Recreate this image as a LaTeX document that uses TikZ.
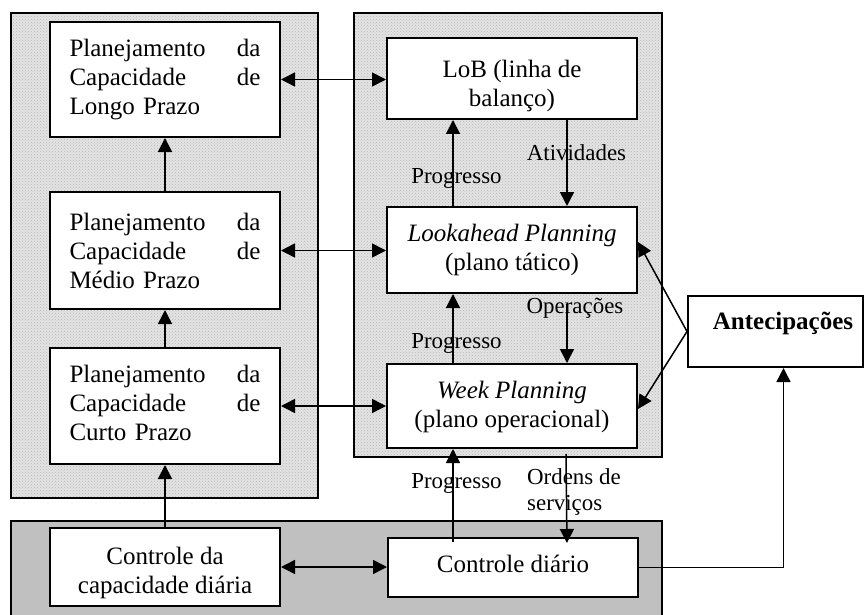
\documentclass[tikz,border=0pt]{standalone}
\usepackage{fontspec}
\setmainfont{Liberation Serif}
\usetikzlibrary{arrows.meta,patterns}

\begin{document}
\begin{tikzpicture}[x=1pt,y=-1pt,
  box/.style={draw, line width=2pt, fill=white, inner sep=0pt},
  boxtext/.style={inner sep=0pt, font=\fontsize{25}{29}\selectfont, align=center},
  plantext/.style={boxtext, text width=191pt, align=left},
  lbl/.style={inner sep=0pt, font=\fontsize{22.9}{26}\selectfont},
  conn/.style={line width=1.5pt, -{Triangle[length=14pt,width=14pt]}},
  both/.style={line width=1.5pt, {Triangle[length=14pt,width=14pt]}-{Triangle[length=14pt,width=14pt]}},
  panelline/.style={line width=2pt}]

\useasboundingbox (0,0) rectangle (867,615);

% textured panels for the planning levels
\fill[black!11] (11,13) rectangle (318,498);
\fill[pattern=crosshatch dots, pattern color=black!28] (11,13) rectangle (318,498);
\draw[panelline] (11,13) rectangle (318,498);
\fill[black!11] (354,13) rectangle (662,457);
\fill[pattern=crosshatch dots, pattern color=black!28] (354,13) rectangle (662,457);
\draw[panelline] (354,13) rectangle (662,457);
% grey control band, running past the lower edge
\filldraw[panelline, fill={rgb,255:red,192;green,192;blue,192}] (11,521) rectangle (662,630);

% capacity planning column
\node[box, minimum width=230pt, minimum height=115pt] (longo) at (165,79.5) {};
\node[plantext] (longoT) at (165,79.5)
  {Planejamento\hfill da\\Capacidade\hfill de\\Longo Prazo};
\node[box, minimum width=230pt, minimum height=117pt] (medio) at (165,250.5) {};
\node[plantext] (medioT) at (165,250.5)
  {Planejamento\hfill da\\Capacidade\hfill de\\Médio Prazo};
\node[box, minimum width=230pt, minimum height=116pt] (curto) at (165,406) {};
\node[plantext] (curtoT) at (165,402.5)
  {Planejamento\hfill da\\Capacidade\hfill de\\Curto Prazo};
\node[box, minimum width=230pt, minimum height=78pt] (ctlcap) at (165,567) {};
\node[boxtext] (ctlcapT) at (165,572.5) {Controle da\\capacidade diária};

% production planning column
\node[box, minimum width=250pt, minimum height=81pt] (lob) at (512,78.5) {};
\node[boxtext] (lobT) at (512,85.5) {LoB (linha de\\balanço)};
\node[box, minimum width=250pt, minimum height=86pt] (look) at (512,250) {};
\node[boxtext] (lookT) at (512,250) {\textit{Lookahead Planning}\\(plano tático)};
\node[box, minimum width=250pt, minimum height=84pt] (week) at (512,406) {};
\node[boxtext] (weekT) at (512,407) {\textit{Week Planning}\\(plano operacional)};
\node[box, minimum width=250pt, minimum height=59pt] (ctldia) at (513,567.5) {};
\node[boxtext] (ctldiaT) at (513,563.5) {Controle diário};

\node[box, minimum width=175pt, minimum height=71pt] (ant) at (775.5,331.5) {};
\node[boxtext, font=\fontsize{25}{29}\selectfont\bfseries] (antT) at (783,323) {Antecipações};

% vertical flow in the capacity column
\draw[conn] (medio.north) -- (longo.south);
\draw[conn] (curto.north) -- (medio.south);
\draw[conn] (ctlcap.north) -- (curto.south);

% links between the two columns
\draw[both] (longo.east) -- (longo.east -| lob.west);
\draw[both] (medio.east) -- (medio.east -| look.west);
\draw[both] (curto.east) -- (curto.east -| week.west);
\draw[both] (ctlcap.east) -- (ctlcap.east -| ctldia.west);

% progress reports upwards, orders downwards
\draw[conn] ([xshift=-59pt]look.north) -- ([xshift=-59pt]lob.south);
\draw[conn] ([xshift=55pt]lob.south) -- ([xshift=55pt]look.north);
\draw[conn] ([xshift=-59pt]week.north) -- ([xshift=-59pt]look.south);
\draw[conn] ([xshift=55pt,yshift=-10pt]look.south) -- ([xshift=55pt]week.north);
\draw[conn] ([xshift=-60pt,yshift=-5pt]ctldia.north) -- ([xshift=-59pt]week.south);
\draw[conn] ([xshift=54pt,yshift=-5pt]week.south) -- ([xshift=54pt,yshift=-6pt]ctldia.north);

% anticipations
\draw[conn] (ant.west) -- ([yshift=8pt]look.east);
\draw[conn] (ant.west) -- ([yshift=-3pt]week.east);
\draw[conn] (ctldia.east) -| ([xshift=8pt]ant.south);

% arrow labels
\node[lbl] (prog1) at (456.5,178) {Progresso};
\node[lbl] (ativ) at (576.5,153) {Atividades};
\node[lbl] (oper) at (575,308) {Operações};
\node[lbl] (prog2) at (456.5,343) {Progresso};
\node[lbl] (prog3) at (456.5,483) {Progresso};
\node[lbl, align=left, anchor=west] (ordens) at (527,492) {Ordens de\\serviços};
\end{tikzpicture}
\end{document}
